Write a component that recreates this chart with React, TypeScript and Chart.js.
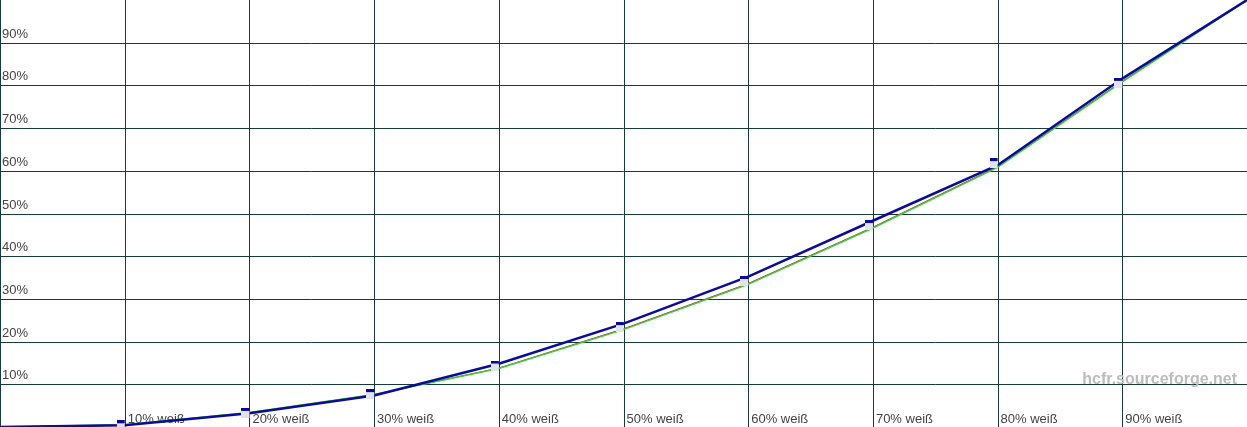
import React, { useEffect, useRef } from "react";
import { Chart, registerables } from "chart.js";

Chart.register(...registerables);

const xValues = [0, 10, 20, 30, 40, 50, 60, 70, 80, 90, 100];
const blueValues = [0, 0.4, 3.2, 7.4, 14.8, 24.2, 35.2, 48.3, 61.3, 81.6, 100];
const greenValues = [0, 0.5, 3.4, 7.6, 13.7, 22.8, 33.4, 46.6, 60.8, 80.8, 100];
const redValues = [0, 0.5, 3.3, 7.6, 13.8, 23.0, 33.6, 46.8, 61.0, 81.0, 100];
const markerX = [10, 20, 30, 40, 50, 60, 70, 80, 90];
const markerValues = [0.4, 3.3, 7.7, 14.4, 23.4, 34.2, 47.3, 61.8, 80.6];
const xGridValues = [0, 10, 20, 30, 40, 50, 60, 70, 80, 90];
const yGridValues = [10, 20, 30, 40, 50, 60, 70, 80, 90];
const xTickLabels = ["10% weiß", "20% weiß", "30% weiß", "40% weiß", "50% weiß", "60% weiß", "70% weiß", "80% weiß", "90% weiß"];
const xTickValues = [10, 20, 30, 40, 50, 60, 70, 80, 90];
const yTickLabels = ["10%", "20%", "30%", "40%", "50%", "60%", "70%", "80%", "90%"];
const yTickValues = [10, 20, 30, 40, 50, 60, 70, 80, 90];
const watermark = "hcfr.sourceforge.net";

function makeMarker(): HTMLCanvasElement {
  const c = document.createElement("canvas");
  c.width = 16;
  c.height = 10;
  const ctx = c.getContext("2d")!;
  ctx.fillStyle = "#e2e2ea";
  ctx.fillRect(0, 0, 8, 10);
  ctx.fillStyle = "#0a0a9a";
  ctx.fillRect(0, 0, 8, 3);
  return c;
}

const gridPlugin = {
  id: "gridPlugin",
  beforeDatasetsDraw(chart: any) {
    const ctx = chart.ctx;
    const xs = chart.scales.x;
    const ys = chart.scales.y;
    ctx.save();
    ctx.strokeStyle = "#173c3c";
    ctx.lineWidth = 1;
    ctx.beginPath();
    xGridValues.forEach((v) => {
      const x = Math.round(xs.getPixelForValue(v)) + 0.5;
      ctx.moveTo(x, 0);
      ctx.lineTo(x, chart.height);
    });
    yGridValues.forEach((v) => {
      const y = Math.round(ys.getPixelForValue(v)) + 0.5;
      ctx.moveTo(0, y);
      ctx.lineTo(chart.width, y);
    });
    ctx.stroke();
    ctx.font = "13px 'Liberation Sans', Arial, sans-serif";
    ctx.fillStyle = "#444444";
    ctx.textBaseline = "bottom";
    ctx.textAlign = "left";
    yTickValues.forEach((v, i) => {
      const y = ys.getPixelForValue(v);
      ctx.fillText(yTickLabels[i], 2, y - 2);
    });
    ctx.textBaseline = "middle";
    xTickValues.forEach((v, i) => {
      const x = xs.getPixelForValue(v);
      ctx.fillText(xTickLabels[i], x + 3, 419);
    });
    ctx.font = "bold 16px 'Liberation Sans', Arial, sans-serif";
    ctx.fillStyle = "#bcbcbc";
    ctx.textAlign = "right";
    ctx.fillText(watermark, 1237, 380);
    ctx.restore();
  },
};

export default function App() {
  const ref = useRef<HTMLCanvasElement | null>(null);
  useEffect(() => {
    document.body.style.margin = "0";
    const marker = makeMarker();
    const toPts = (vals: number[], xsv: number[]) => vals.map((v, i) => ({ x: xsv[i], y: v }));
    const chart = new Chart(ref.current!, {
      type: "scatter",
      data: {
        datasets: [
          {
            label: "markers",
            data: toPts(markerValues, markerX),
            showLine: false,
            pointStyle: marker as any,
            pointRadius: 5,
            order: 0,
          },
          {
            label: "blue",
            data: toPts(blueValues, xValues),
            showLine: true,
            borderColor: "#0c0c96",
            borderWidth: 2.5,
            pointRadius: 0,
            order: 1,
          },
          {
            label: "green",
            data: toPts(greenValues, xValues),
            showLine: true,
            borderColor: "#3ccc3c",
            borderWidth: 1.5,
            pointRadius: 0,
            order: 2,
          },
          {
            label: "red",
            data: toPts(redValues, xValues),
            showLine: true,
            borderColor: "#b83030",
            borderWidth: 1,
            pointRadius: 0,
            order: 3,
          },
        ],
      },
      options: {
        animation: false,
        responsive: false,
        maintainAspectRatio: false,
        layout: { padding: 0, autoPadding: false },
        plugins: { legend: { display: false }, tooltip: { enabled: false } },
        scales: {
          x: { type: "linear", min: 0, max: 100, display: false },
          y: { type: "linear", min: 0, max: 100, display: false },
        },
      },
      plugins: [gridPlugin],
    });
    return () => chart.destroy();
  }, []);
  return (
    <div style={{ width: 1247, height: 427, background: "#ffffff" }}>
      <canvas ref={ref} width={1247} height={427} style={{ display: "block" }} />
    </div>
  );
}
